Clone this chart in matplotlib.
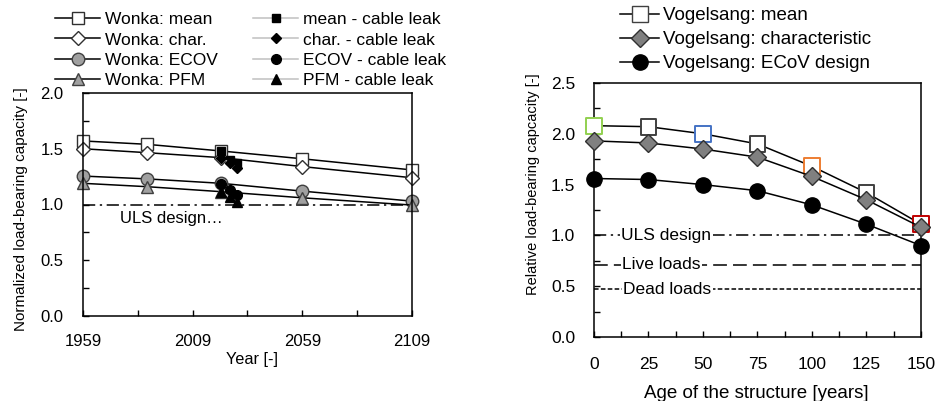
import matplotlib
matplotlib.use("Agg")
import matplotlib.pyplot as plt
from matplotlib.ticker import MultipleLocator, FixedLocator

plt.rcParams['font.family'] = ['Liberation Sans', 'DejaVu Sans']

# left panel: Wonka
years = [1959, 1988, 2022, 2059, 2109]
wonka_mean = [1.57, 1.54, 1.48, 1.41, 1.31]
wonka_char = [1.50, 1.465, 1.42, 1.34, 1.24]
wonka_ecov = [1.255, 1.23, 1.19, 1.12, 1.03]
wonka_pfm = [1.19, 1.16, 1.115, 1.06, 0.995]

leak_years = [2022, 2026, 2029]
leak_mean = [1.48, 1.40, 1.37]
leak_char = [1.42, 1.37, 1.33]
leak_ecov = [1.18, 1.13, 1.085]
leak_pfm = [1.11, 1.07, 1.025]

# right panel: Vogelsang
age = [0, 25, 50, 75, 100, 125, 150]
vog_mean = [2.08, 2.07, 2.00, 1.90, 1.68, 1.42, 1.11]
vog_char = [1.93, 1.91, 1.85, 1.77, 1.58, 1.35, 1.08]
vog_ecov = [1.56, 1.55, 1.50, 1.44, 1.30, 1.11, 0.90]
mean_edge = ['#92d050', '#404040', '#4472c4', '#404040', '#ed7d31', '#404040', '#c00000']

uls = 1.0
live = 0.71
dead = 0.47

fig = plt.figure(figsize=(9.37, 4.01), dpi=100)
W, H = 937.0, 401.0
ax1 = fig.add_axes([83 / W, (H - 316) / H, 329 / W, 223 / H])
ax2 = fig.add_axes([594 / W, (H - 337) / H, 327 / W, 254 / H])

lw = 1.1
grey = '#a0a0a0'
# ----- left
h = []
h += ax1.plot(years, wonka_mean, '-s', color='k', lw=lw, mfc='white', mec='#303030', ms=9, label='Wonka: mean')
h += ax1.plot(years, wonka_char, '-D', color='k', lw=lw, mfc='white', mec='#303030', ms=7, label='Wonka: char.')
h += ax1.plot(years, wonka_ecov, '-o', color='k', lw=lw, mfc=grey, mec='#404040', ms=9, label='Wonka: ECOV')
h += ax1.plot(years, wonka_pfm, '-^', color='k', lw=lw, mfc=grey, mec='#404040', ms=9, label='Wonka: PFM')
lc = '#c0c0c0'
h += ax1.plot(leak_years, leak_mean, '-s', color=lc, lw=lw, mfc='k', mec='k', ms=6, label='mean - cable leak')
h += ax1.plot(leak_years, leak_char, '-D', color=lc, lw=lw, mfc='k', mec='k', ms=5, label='char. - cable leak')
h += ax1.plot(leak_years, leak_ecov, '-o', color=lc, lw=lw, mfc='k', mec='k', ms=7, label='ECOV - cable leak')
h += ax1.plot(leak_years, leak_pfm, '-^', color=lc, lw=lw, mfc='k', mec='k', ms=7, label='PFM - cable leak')
ax1.axhline(uls, color='k', lw=1.1, ls=(0, (8, 3, 1.5, 3)), zorder=1)
ax1.text(1976, 0.87, 'ULS design\u2026', fontsize=12, va='center', ha='left')

ax1.set_xlim(1959, 2109)
ax1.set_ylim(0, 2.0)
ax1.xaxis.set_major_locator(FixedLocator([1959, 2009, 2059, 2109]))
ax1.xaxis.set_minor_locator(FixedLocator([1984, 2034, 2084]))
ax1.yaxis.set_major_locator(MultipleLocator(0.5))
ax1.yaxis.set_minor_locator(MultipleLocator(0.25))
ax1.yaxis.set_major_formatter(matplotlib.ticker.FormatStrFormatter('%.1f'))
ax1.set_xlabel('Year [-]', fontsize=11.7)
ax1.set_ylabel('Normalized load-bearing capacity [-]', fontsize=11)
ax1.xaxis.set_label_coords(0.514, -0.161)
ax1.yaxis.set_label_coords(-0.168, 0.48)
fig.legend(handles=h, ncol=2, loc='upper left', bbox_to_anchor=(55 / W, 1 - 12 / H),
           frameon=False, fontsize=12.5, handlelength=2.6, handletextpad=0.3,
           columnspacing=2.0, labelspacing=0.3, borderpad=0, borderaxespad=0)

# ----- right
h2 = []
h2 += ax2.plot(age, vog_mean, '-', color='k', lw=lw, zorder=2)
ax2.scatter(age, vog_mean, marker='s', s=130, facecolors='white', edgecolors=mean_edge, linewidths=1.4, zorder=3)
h2 += ax2.plot(age, vog_char, '-D', color='k', lw=lw, mfc='#808080', mec='#303030', ms=9, zorder=4)
h2 += ax2.plot(age, vog_ecov, '-o', color='k', lw=lw, mfc='k', mec='k', ms=11, zorder=4)
leg_mean = matplotlib.lines.Line2D([], [], color='k', lw=lw, marker='s', mfc='white', mec='#404040', ms=11)
ax2.axhline(uls, color='k', lw=1.1, ls=(0, (8, 3, 1.5, 3)), zorder=1)
ax2.axhline(live, color='k', lw=1.1, ls=(0, (9, 4)), zorder=1)
ax2.axhline(dead, color='k', lw=1.1, ls=(0, (3, 1.5)), zorder=1)
tb = dict(facecolor='white', edgecolor='none', pad=1.0)
ax2.text(12.5, uls, 'ULS design', fontsize=12.5, va='center', ha='left', bbox=tb, zorder=2)
ax2.text(13, live, 'Live loads', fontsize=12.5, va='center', ha='left', bbox=tb, zorder=2)
ax2.text(13.5, dead, 'Dead loads', fontsize=12.5, va='center', ha='left', bbox=tb, zorder=2)

ax2.set_xlim(0, 150)
ax2.set_ylim(0, 2.5)
ax2.xaxis.set_major_locator(MultipleLocator(25))
ax2.xaxis.set_minor_locator(MultipleLocator(12.5))
ax2.yaxis.set_major_locator(MultipleLocator(0.5))
ax2.yaxis.set_minor_locator(MultipleLocator(0.25))
ax2.yaxis.set_major_formatter(matplotlib.ticker.FormatStrFormatter('%.1f'))
ax2.set_xlabel('Age of the structure [years]', fontsize=13.5)
ax2.set_ylabel('Relative load-bearing capcacity [-]', fontsize=10.5)
ax2.xaxis.set_label_coords(0.497, -0.189)
ax2.yaxis.set_label_coords(-0.165, 0.60)
ax2.legend([leg_mean, h2[1], h2[2]],
           ['Vogelsang: mean', 'Vogelsang: characteristic', 'Vogelsang: ECoV design'],
           loc='upper left', bbox_to_anchor=(620 / W, 1 - 7 / H), bbox_transform=fig.transFigure,
           frameon=False, fontsize=13.5, handlelength=2.1, handletextpad=0.2,
           labelspacing=0.37, borderpad=0, borderaxespad=0)

for ax, fs, px, py in ((ax1, 12, 13, 14), (ax2, 12.5, 14.5, 13.5)):
    for s in ax.spines.values():
        s.set_linewidth(1.1)
    ax.tick_params(which='both', direction='in', length=4, width=1.0, labelsize=fs)
    ax.tick_params(axis='x', which='both', pad=px)
    ax.tick_params(axis='y', which='both', pad=py)
    for line in ax.lines:
        line.set_clip_on(False)
    for c in ax.collections:
        c.set_clip_on(False)

fig.savefig('out.png', dpi=100)
